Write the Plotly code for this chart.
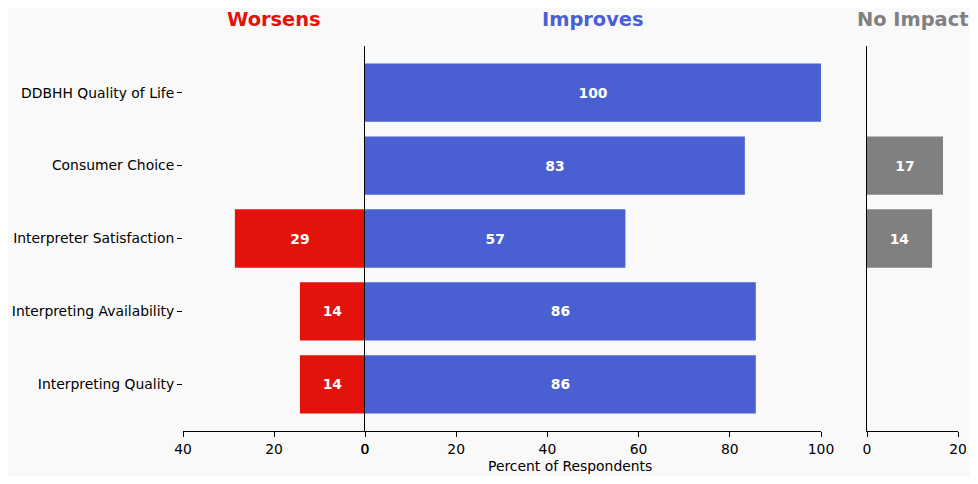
import plotly.graph_objects as go

categories = ["Interpreting Quality", "Interpreting Availability", "Interpreter Satisfaction",
              "Consumer Choice", "DDBHH Quality of Life"]
worsens = [14.3, 14.3, 28.6, 0, 0]
improves = [85.7, 85.7, 57.1, 83.3, 100]
no_impact = [0, 0, 14.3, 16.7, 0]

RED = "#e3120b"
BLUE = "#4a5fd1"
GRAY = "#808080"
BG = "#f9f9f9"
FONT = "DejaVu Sans"

# page body has an 8px margin; map reference pixel coords onto the figure's paper
OFF = 8
W, H = 978 - 2 * OFF, 484 - 2 * OFF
def px(x): return (x - OFF) / W
def py(y): return 1 - (y - OFF) / H

ypos = list(range(len(categories)))

def lab(vals):
    return [f"{v:.0f}" if v > 0 else "" for v in vals]

fig = go.Figure()
for vals, col, xa, ya in [(worsens, RED, "x", "y"), (improves, BLUE, "x2", "y2"), (no_impact, GRAY, "x3", "y3")]:
    fig.add_trace(go.Bar(
        x=vals, y=ypos, orientation="h", marker=dict(color=col, line=dict(width=0)),
        width=0.8, text=lab(vals), textposition="inside", insidetextanchor="middle",
        textfont=dict(color="white", family=FONT, size=13.9, weight="bold"),
        constraintext="none", xaxis=xa, yaxis=ya, showlegend=False, hoverinfo="x+y",
    ))

yd = [py(431), py(46)]
yr = [-0.64, 4.64]
common_x = dict(showline=True, linecolor="black", linewidth=1, ticks="outside", ticklen=5,
                tickcolor="black", tickwidth=1, showgrid=False, zeroline=False, automargin=False,
                tickfont=dict(family=FONT, size=13.9, color="black"))

fig.update_layout(
    width=W, height=H, margin=dict(l=0, r=0, t=0, b=0, pad=0, autoexpand=False),
    paper_bgcolor=BG, plot_bgcolor=BG, bargap=0.2,
    font=dict(family=FONT, color="black"),
    xaxis=dict(domain=[px(183), px(365)], range=[40, 0], tickvals=[0, 20, 40], anchor="y", **common_x),
    xaxis2=dict(domain=[px(365), px(821)], range=[0, 100], tickvals=[0, 20, 40, 60, 80, 100], anchor="y2", **common_x),
    xaxis3=dict(domain=[px(867), px(958)], range=[0, 20], tickvals=[0, 20], anchor="y3", **common_x),
    yaxis=dict(domain=yd, range=yr, tickvals=ypos, ticktext=categories, anchor="x", automargin=False,
               showline=False, ticks="outside", ticklen=5, tickcolor="black", tickwidth=1,
               showgrid=False, zeroline=False, tickfont=dict(family=FONT, size=13.9, color="black")),
    yaxis2=dict(domain=yd, range=yr, anchor="x2", showline=True, linecolor="black", linewidth=1, automargin=False,
                showticklabels=False, ticks="", showgrid=False, zeroline=False),
    yaxis3=dict(domain=yd, range=yr, anchor="x3", showline=True, linecolor="black", linewidth=1, automargin=False,
                showticklabels=False, ticks="", showgrid=False, zeroline=False),
)

titles = [("Worsens", RED, 274), ("Improves", BLUE, 593), ("No Impact", GRAY, 912)]
for t, c, x in titles:
    fig.add_annotation(text=t, x=px(x), y=py(19), xref="paper", yref="paper", showarrow=False,
                       xanchor="center", yanchor="middle",
                       font=dict(family=FONT, size=19.4, color=c, weight="bold"))

fig.add_annotation(text="Percent of Respondents", x=px(570), y=py(466), xref="paper", yref="paper",
                   showarrow=False, xanchor="center", yanchor="middle",
                   font=dict(family=FONT, size=13.9, color="black"))

fig.write_html("out.html")
